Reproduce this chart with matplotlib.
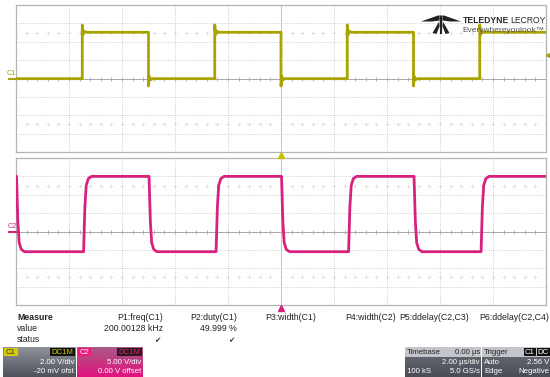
import numpy as np
import matplotlib
matplotlib.use('Agg')
import matplotlib.pyplot as plt
from matplotlib.patches import Rectangle, Polygon

plt.rcParams['font.family'] = ['Liberation Sans', 'DejaVu Sans']

# ---------------- data ----------------
time_div_us = 2.0
n_hdiv = 10
n_vdiv = 8

# Channel 1 (2.00 V/div, -20 mV offset)
c1_rise_us = [-7.5, -2.5, 2.5, 7.5]
c1_fall_us = [-5.0, 0.0, 5.0]
c1_low_v = 0.0
c1_high_v = 5.05
c1_ring_v = 0.8
c1_vdiv = 2.0
c1_offset_v = -0.02

# Channel 2 (5.00 V/div, 0 V offset)
c2_rise_us = [-7.45, -2.45, 2.55, 7.55]
c2_fall_us = [-9.98, -4.98, 0.02, 5.02]
c2_low_v = -5.5
c2_high_v = 15.0
c2_vdiv = 5.0
c2_offset_v = 0.0
c2_edge_dt_us = [0.0, 0.05, 0.10, 0.18, 0.30]
c2_edge_frac = [0.0, 0.60, 0.88, 0.97, 1.0]

trig_level_v = 2.56

measure_names = ['P1:freq(C1)', 'P2:duty(C1)', 'P3:width(C1)',
                 'P4:width(C2)', 'P5:ddelay(C2,C3)', 'P6:ddelay(C2,C4)']
measure_values = ['200.00128 kHz', '49.999 %', '', '', '', '']
measure_status = ['\u2714', '\u2714', '', '', '', '']

C1_COL = '#a9a300'
C2_COL = '#d8217f'

# ---------------- waveform builders ----------------
def build_c1():
    ev = sorted([(t, c1_high_v) for t in c1_rise_us] +
                [(t, c1_low_v) for t in c1_fall_us])
    t = [-10.0]
    v = [c1_low_v]
    prev = c1_low_v
    for te, lvl in ev:
        s = 1 if lvl > prev else -1
        t += [te, te, te + 0.03, te + 0.08, te + 0.15]
        v += [prev, lvl + s * c1_ring_v, lvl - s * 0.3 * c1_ring_v,
              lvl + s * 0.15 * c1_ring_v, lvl]
        prev = lvl
    t.append(10.0)
    v.append(prev)
    return np.array(t), (np.array(v) + c1_offset_v) / c1_vdiv


def build_c2():
    ev = sorted([(t, c2_high_v) for t in c2_rise_us] +
                [(t, c2_low_v) for t in c2_fall_us])
    t = [-10.0]
    v = [c2_high_v]
    prev = c2_high_v
    for te, lvl in ev:
        for dt, f in zip(c2_edge_dt_us, c2_edge_frac):
            t.append(te + dt)
            v.append(prev + (lvl - prev) * f)
        prev = lvl
    t.append(10.0)
    v.append(prev)
    return np.array(t), (np.array(v) + c2_offset_v) / c2_vdiv


# ---------------- figure ----------------
W, H = 550, 377
fig = plt.figure(figsize=(W / 100, H / 100), dpi=100)
fig.patch.set_facecolor('white')


def px_axes(x0, y0, x1, y1, **kw):
    return fig.add_axes([x0 / W, 1 - y1 / H, (x1 - x0) / W, (y1 - y0) / H], **kw)


def setup_grid(ax):
    half_t = n_hdiv / 2 * time_div_us
    ax.set_xlim(-half_t, half_t)
    ax.set_ylim(-n_vdiv / 2, n_vdiv / 2)
    ax.set_xticks([])
    ax.set_yticks([])
    for sp in ax.spines.values():
        sp.set_color('#b4b4b4')
        sp.set_linewidth(0.9)
    gkw = dict(color='#c2c2c2', lw=0.6, ls=(0, (1, 1.6)), zorder=1)
    for i in range(1, n_hdiv):
        ax.axvline(-half_t + i * time_div_us, **gkw)
    for j in range(1, n_vdiv):
        ax.axhline(-n_vdiv / 2 + j, **gkw)
    ax.axhline(0, color='#a8a8a8', lw=0.7, zorder=1)
    ax.axvline(0, color='#c0c0c0', lw=0.6, zorder=1)
    xs = np.arange(-half_t, half_t + 1e-9, time_div_us / 5)
    ax.plot(xs, np.zeros_like(xs), ls='none', marker='|', ms=3.5,
            mew=0.6, color='#a8a8a8', zorder=1)
    for yy in (2.5, -2.5):
        ax.plot(xs, np.full_like(xs, yy), ls='none', marker='+', ms=2.2,
                mew=0.45, color='#d4d4d4', zorder=1)


ax1 = px_axes(16, 5, 546, 152)
setup_grid(ax1)
t1, y1 = build_c1()
ax1.plot(t1, y1, color=C1_COL, lw=2.0, zorder=3)

ax2 = px_axes(16, 158, 546, 305)
setup_grid(ax2)
t2, y2 = build_c2()
ax2.plot(t2, y2, color=C2_COL, lw=2.0, zorder=3)

# ---------------- overlay ----------------
ov = fig.add_axes([0, 0, 1, 1], zorder=10)
ov.set_xlim(0, W)
ov.set_ylim(H, 0)
ov.axis('off')
ov.patch.set_alpha(0)


def grad_box(x0, y0, x1, y1, ctop, cbot):
    ct = np.array(matplotlib.colors.to_rgb(ctop))
    cb = np.array(matplotlib.colors.to_rgb(cbot))
    f = np.linspace(0, 1, 32)[:, None]
    img = (ct[None, :] * (1 - f) + cb[None, :] * f)[:, None, :]
    ov.imshow(img, extent=(x0, x1, y1, y0), aspect='auto', zorder=2,
              interpolation='bilinear')


# channel markers on left
ov.plot([9, 16], [78.5, 78.5], color=C1_COL, lw=1.5)
ov.text(6.5, 73.5, 'C1', color=C1_COL, fontsize=5.2, va='center', ha='left')
ov.plot([9, 16], [231.5, 231.5], color=C2_COL, lw=1.5)
ov.text(7.5, 227, 'C2', color=C2_COL, fontsize=5.2, va='center', ha='left')

# trigger level marker (right side of top grid)
trig_y = 78.5 - (trig_level_v + c1_offset_v) / c1_vdiv * (147 / n_vdiv)
ov.plot([548], [trig_y], marker='<', ms=3.2, color=C1_COL, ls='none')

# trigger position markers
ov.plot([281], [155], marker='^', ms=4, color='#c9c000', ls='none')
ov.plot([281], [307.5], marker='^', ms=4, color=C2_COL, ls='none')

# Teledyne logo
logo_polys = [
    [(421, 21.5), (438, 15.5), (439.5, 15.5), (439.5, 20.5), (432, 21.5)],
    [(461, 21.5), (444, 15.5), (442.5, 15.5), (442.5, 20.5), (450, 21.5)],
    [(439.6, 15.5), (442.4, 15.5), (442, 34), (440, 34)],
    [(438.8, 22), (439.6, 26), (436.5, 34), (432.5, 33)],
    [(443.2, 22), (442.4, 26), (445.5, 34), (449.5, 33)],
]
for p in logo_polys:
    ov.add_patch(Polygon(p, closed=True, color='#222222', zorder=4, lw=0))
ov.text(462.5, 20.5, 'TELEDYNE', fontsize=6.2, fontweight='bold',
        color='#2a2a2a', va='center', ha='left', zorder=4)
ov.text(546, 20.5, 'LECROY', fontsize=6.2, color='#2a2a2a', va='center',
        ha='right', zorder=4)
ov.text(462.5, 30, 'Everywhereyoulook\u2122', fontsize=6.0, color='#555555',
        va='center', ha='left', zorder=1)

# measurement table
tfs = 6.3
ov.text(17, 317, 'Measure', fontsize=tfs, fontweight='bold', va='center', color='#222')
ov.text(17, 328.5, 'value', fontsize=tfs, va='center', color='#222')
ov.text(17, 340, 'status', fontsize=tfs, va='center', color='#222')
col_right = [163, 237, 316, 396, 469, 549]
for xr, name, val, st in zip(col_right, measure_names, measure_values, measure_status):
    ov.text(xr, 317, name, fontsize=tfs, ha='right', va='center', color='#222')
    if val:
        ov.text(xr, 328.5, val, fontsize=tfs, ha='right', va='center', color='#222')
    if st:
        ov.text(xr - 6, 340, st, fontsize=5.5, ha='center', va='center',
                color='#444', family=['DejaVu Sans'])

bfs = 5.6
# C1 box
grad_box(3, 347, 76, 377, '#8f929b', '#4f525b')
ov.add_patch(Rectangle((4, 348), 14, 8, color='#d2cc00', zorder=3, lw=0))
ov.text(11, 352, 'C1', fontsize=bfs, ha='center', va='center', color='#333', zorder=4)
ov.add_patch(Rectangle((50, 348), 25, 8, color='#111111', zorder=3, lw=0))
ov.text(62.5, 352, 'DC1M', fontsize=bfs, ha='center', va='center', color='#d2cc00', zorder=4)
ov.text(74, 362, '2.00 V/div', fontsize=bfs, ha='right', va='center', color='white', zorder=4)
ov.text(74, 371.5, '-20 mV ofst', fontsize=bfs, ha='right', va='center', color='white', zorder=4)

# C2 box
grad_box(77, 347, 143, 377, '#a95a86', '#e2127e')
ov.add_patch(Rectangle((78, 348), 13, 8, color='#f0187f', zorder=3, lw=0))
ov.text(84.5, 352, 'C2', fontsize=bfs, ha='center', va='center', color='white', zorder=4)
ov.add_patch(Rectangle((117, 348), 25, 8, color='#2a1a24', zorder=3, lw=0))
ov.text(129.5, 352, 'DC1M', fontsize=bfs, ha='center', va='center', color='#e02060', zorder=4)
ov.text(141.5, 362, '5.00 V/div', fontsize=bfs, ha='right', va='center', color='white', zorder=4)
ov.text(141.5, 371.5, '0.00 V offset', fontsize=bfs, ha='right', va='center', color='white', zorder=4)

# Timebase box
grad_box(405, 347, 481, 377, '#6c6f77', '#4a4d55')
ov.add_patch(Rectangle((405, 347), 76, 9.5, color='#c4c5ca', zorder=3, lw=0))
ov.text(407, 352, 'Timebase', fontsize=bfs, ha='left', va='center', color='#222', zorder=4)
ov.text(480, 352, '0.00 \u00b5s', fontsize=bfs, ha='right', va='center', color='#222', zorder=4)
ov.text(480, 362.5, '2.00 \u00b5s/div', fontsize=bfs, ha='right', va='center', color='white', zorder=4)
ov.text(407, 371.5, '100 kS', fontsize=bfs, ha='left', va='center', color='white', zorder=4)
ov.text(480, 371.5, '5.0 GS/s', fontsize=bfs, ha='right', va='center', color='white', zorder=4)

# Trigger box
grad_box(482, 347, 550, 377, '#6c6f77', '#4a4d55')
ov.add_patch(Rectangle((482, 347), 68, 9.5, color='#c4c5ca', zorder=3, lw=0))
ov.text(484, 352, 'Trigger', fontsize=bfs, ha='left', va='center', color='#222', zorder=4)
ov.add_patch(Rectangle((524, 348), 12, 8, color='#111111', zorder=3, lw=0))
ov.text(530, 352, 'C1', fontsize=bfs, ha='center', va='center', color='white', zorder=4)
ov.add_patch(Rectangle((537, 348), 12.5, 8, color='#111111', zorder=3, lw=0))
ov.text(543, 352, 'DC', fontsize=bfs, ha='center', va='center', color='white', zorder=4)
ov.text(484, 362.5, 'Auto', fontsize=bfs, ha='left', va='center', color='white', zorder=4)
ov.text(549, 362.5, f'{trig_level_v:.2f} V', fontsize=bfs, ha='right', va='center', color='white', zorder=4)
ov.text(484, 371.5, 'Edge', fontsize=bfs, ha='left', va='center', color='white', zorder=4)
ov.text(549, 371.5, 'Negative', fontsize=bfs, ha='right', va='center', color='white', zorder=4)

ov.set_xlim(0, W)
ov.set_ylim(H, 0)

fig.savefig('out.png', dpi=100)
